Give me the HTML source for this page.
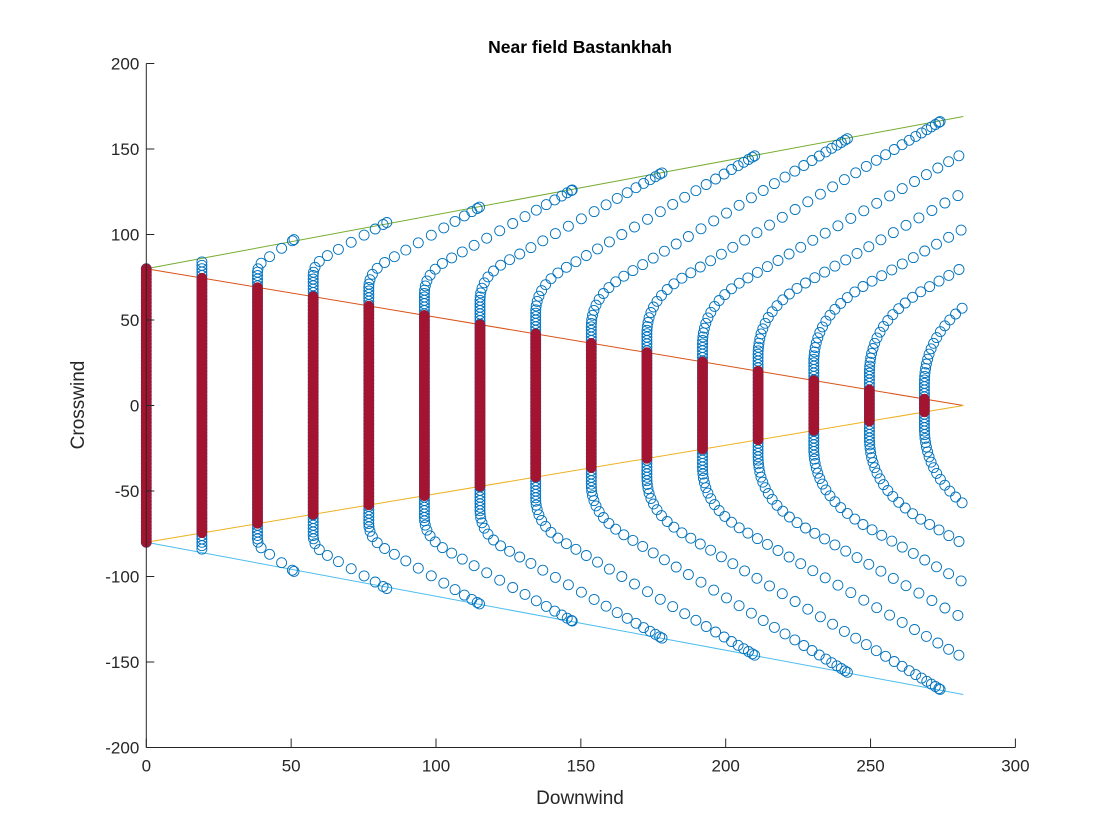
<!DOCTYPE html>
<html><head><meta charset="utf-8">
<style>
html,body{margin:0;padding:0;background:#fff;}
svg{display:block;font-family:"Liberation Sans",Arial,sans-serif;}
</style></head>
<body>
<svg id="chart" width="1120" height="840" viewBox="0 0 1120 840" xmlns="http://www.w3.org/2000/svg">
<rect width="1120" height="840" fill="#fff"/>
<text x="580" y="53" text-anchor="middle" font-size="17.5" font-weight="bold" fill="#000">Near field Bastankhah</text>
<g id="marks"></g>
<g id="axes"></g>
<text x="580" y="804" text-anchor="middle" font-size="19" fill="#262626">Downwind</text>
<text x="0" y="0" transform="translate(84,405) rotate(-90)" text-anchor="middle" font-size="19" fill="#262626">Crosswind</text>
</svg>
<script>
// ---- data ----
const xTicks = [0, 50, 100, 150, 200, 250, 300];
const yTicks = [-200, -150, -100, -50, 0, 50, 100, 150, 200];
const colX     = [0, 19.2, 38.4, 57.6, 76.8, 96, 115.2, 134.4, 153.6, 172.8, 192, 211.2, 230.4, 249.6, 268.6];
const coreHalf = [80, 74.5, 69, 63.7, 58.2, 52.8, 47.3, 41.9, 36.4, 31, 25.5, 20.1, 14.6, 9.2, 3.8];
const stackTop = [80, 84, 78, 76, 69, 65.5, 61.5, 54, 46, 42, 36, 30, 25, 19, 13];
const bendDX   = [0, 0, 2.8, 4.2, 5.6, 7, 8.4, 9.8, 11.2, 12.6, 14, 15.4, 16.8, 18.2, 19.6];
const bendDY   = [0, 0, 7.4, 11, 14.8, 18.5, 22, 26, 29.6, 33, 37, 40.7, 44.4, 48, 52];
const armEndX  = [0, 19.2, 51, 83, 115, 147, 178, 210, 242, 274, 307, 339, 371, 403, 435];
const armEndY  = [80, 84, 97, 107, 116, 126, 136, 146, 156, 166, 172, 180, 190, 200, 212];
const edgeLineX = [0, 282];
const greenY  = [80, 169];
const redY    = [80, 0];
const orangeY = [-80, 0];
const cyanY   = [-80, -169];
const xMax = 282;

// ---- axis functions ----
const X0 = 146.3, XS = 2.897, Y0 = 405.5, YS = 1.71;
function sx(v){ return X0 + v * XS; }
function sy(v){ return Y0 - v * YS; }

const NS = "http://www.w3.org/2000/svg";
const marks = document.getElementById('marks');
const axes = document.getElementById('axes');
function mk(tag, attrs, parent){
  const e = document.createElementNS(NS, tag);
  for (const k in attrs) e.setAttribute(k, attrs[k]);
  parent.appendChild(e);
  return e;
}

// boundary lines
const lineDefs = [[greenY,'#77AC30','upper-wake-edge-line'],[redY,'#D95319','upper-core-line'],[orangeY,'#EDB120','lower-core-line'],[cyanY,'#4DBEEE','lower-wake-edge-line']];
lineDefs.forEach(function(d){
  const l = mk('line', {x1:sx(edgeLineX[0]), y1:sy(d[0][0]), x2:sx(edgeLineX[1]), y2:sy(d[0][1]), stroke:d[1], 'stroke-width':1}, marks);
  
  
});

// blue timeline curves
const blueG = mk('g', {fill:'none', stroke:'#0072BD', 'stroke-width':0.9}, marks);


function circ(px, py, g){
  const c = mk('circle', {cx:px.toFixed(1), cy:py.toFixed(1), r:5}, g);
  
  
}
for (let i = 0; i < colX.length; i++){
  const cg = mk('g', {}, blueG);
  
  
  const px = sx(colX[i]);
  const top = sy(stackTop[i]), bot = sy(-stackTop[i]);
  const n = Math.max(1, Math.round((bot - top) / 3.4));
  for (let k = 0; k <= n; k++) circ(px, top + (bot - top) * k / n, cg);
  if (armEndX[i] <= colX[i] + 0.01) continue;
  const P0 = [px, top];
  const P1 = [sx(colX[i] + bendDX[i]), sy(stackTop[i] + bendDY[i])];
  const C  = [px, sy(stackTop[i] + bendDY[i] * 0.6)];
  const P2 = [sx(armEndX[i]), sy(armEndY[i])];
  const poly = [];
  for (let t = 0; t <= 1.0001; t += 0.02){
    poly.push([(1-t)*(1-t)*P0[0] + 2*t*(1-t)*C[0] + t*t*P1[0], (1-t)*(1-t)*P0[1] + 2*t*(1-t)*C[1] + t*t*P1[1]]);
  }
  for (let t = 0.02; t <= 1.0001; t += 0.02){
    poly.push([P1[0] + (P2[0]-P1[0])*t, P1[1] + (P2[1]-P1[1])*t]);
  }
  const cum = [0];
  for (let k = 1; k < poly.length; k++){
    cum.push(cum[k-1] + Math.hypot(poly[k][0]-poly[k-1][0], poly[k][1]-poly[k-1][1]));
  }
  const L = cum[cum.length-1];
  function at(s){
    let k = 1; while (k < cum.length-1 && cum[k] < s) k++;
    const f = (s - cum[k-1]) / Math.max(1e-6, cum[k]-cum[k-1]);
    return [poly[k-1][0] + (poly[k][0]-poly[k-1][0])*f, poly[k-1][1] + (poly[k][1]-poly[k-1][1])*f];
  }
  const pts = [];
  let s = 3.4;
  while (s < L){
    pts.push(at(s));
    const u = s / L;
    s += 3 + 12 * Math.pow(Math.sin(Math.PI * u), 0.8);
  }
  pts.push(at(L));
  const xLimPx = sx(xMax) + 0.5;
  pts.forEach(function(p){
    if (p[0] > xLimPx) return;
    circ(p[0], p[1], cg);
    circ(p[0], 2*Y0 - p[1], cg);
  });
}

// red core columns
const redG = mk('g', {fill:'#A2142F', stroke:'#A2142F', 'stroke-width':0.5}, marks);


for (let i = 0; i < colX.length; i++){
  const b = mk('rect', {x:sx(colX[i]) - 5, y:sy(coreHalf[i]) - 5, width:10, height:(sy(-coreHalf[i]) - sy(coreHalf[i])) + 10, rx:5, ry:5}, redG);
  
  
}

// axes
const axisStyle = {stroke:'#262626', 'stroke-width':1, fill:'none'};
const xa = mk('line', Object.assign({x1:sx(0), y1:sy(-200), x2:sx(300), y2:sy(-200)}, axisStyle), axes);


const ya = mk('line', Object.assign({x1:sx(0), y1:sy(-200), x2:sx(0), y2:sy(200)}, axisStyle), axes);


xTicks.forEach(function(v){
  const t = mk('line', Object.assign({x1:sx(v), y1:sy(-200), x2:sx(v), y2:sy(-200) - 9}, axisStyle), axes);
  
  
  const lb = mk('text', {x:sx(v), y:sy(-200) + 24, 'text-anchor':'middle', 'font-size':17, fill:'#262626'}, axes);
  lb.textContent = String(v);
  
  
});
yTicks.forEach(function(v){
  const t = mk('line', Object.assign({x1:sx(0), y1:sy(v), x2:sx(0) + 8, y2:sy(v)}, axisStyle), axes);
  
  
  const lb = mk('text', {x:sx(0) - 7, y:sy(v) + 6, 'text-anchor':'end', 'font-size':17, fill:'#262626'}, axes);
  lb.textContent = String(v);
  
  
});
</script>
</body></html>
